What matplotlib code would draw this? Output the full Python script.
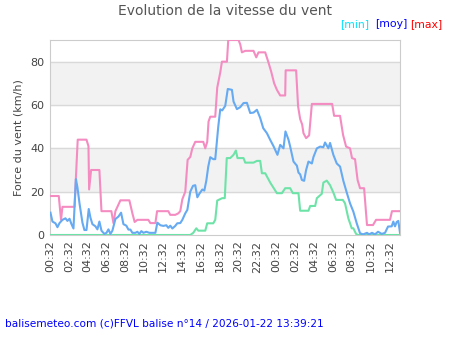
import matplotlib
matplotlib.use("Agg")
import matplotlib.pyplot as plt

# hours counted from 00:32 on the first day
max_h = [0.05, 0.93, 1.17, 1.32, 2.6, 2.94, 3.87, 4.08, 4.15, 4.36, 5.24, 5.46, 6.51, 6.73, 6.94,
         7.47, 8.42, 8.74, 8.98, 9.27, 10.43, 10.65, 11.18, 11.36, 12.55, 12.76, 13.29, 13.61, 13.82,
         14.04, 14.35, 14.6, 14.88, 15.1, 15.41, 16.26, 16.47, 16.68, 16.82, 17.0, 17.53, 17.74, 18.06,
         18.24, 18.77, 18.91, 20.0, 20.18, 20.36, 20.71, 21.59, 21.88, 22.12, 22.83, 23.15, 23.46, 23.78,
         24.07, 24.42, 24.95, 25.0, 26.11, 26.32, 26.54, 26.75, 26.89, 27.17, 27.49, 27.78, 29.93, 30.14,
         30.77, 31.09, 31.41, 31.83, 32.04, 32.36, 32.63, 32.89, 33.32, 33.63, 34.27, 34.59, 36.07, 36.28,
         37.13]
max_v = [18, 18, 7, 13, 13, 44, 44, 41, 21, 30, 30, 11, 11, 5.5, 11,
         16, 16, 10, 6, 7, 7, 5.5, 5.5, 11, 11, 9.3, 9.3, 10, 11,
         16.5, 20, 34.7, 36, 40, 43, 43, 40, 43, 52.4, 54.6, 54.6, 68, 75,
         80, 80, 90, 90, 88, 84.3, 85, 85, 82, 84.3, 84.3, 80, 75.5, 70,
         67, 64.4, 64.4, 76, 76, 59.3, 53.5, 51, 47, 44.7, 46, 60.5, 60.5, 55,
         55, 46.2, 40.8, 40, 35.5, 35, 25.4, 21.6, 21.6, 4.6, 4.6, 7, 7, 11,
         11]

moy_h = [0.05, 0.26, 0.58, 0.79, 1.01, 1.32, 1.64, 1.85, 2.07, 2.28, 2.49, 2.75, 2.91, 3.13, 3.44,
         3.65, 3.87, 4.11, 4.29, 4.5, 4.82, 5.03, 5.24, 5.46, 5.77, 5.99, 6.2, 6.41, 6.62, 6.94,
         7.26, 7.54, 7.79, 8.1, 8.32, 8.53, 8.74, 9.06, 9.27, 9.48, 9.69, 9.91, 10.22, 10.54, 11.18,
         11.39, 11.71, 12.02, 12.34, 12.55, 12.76, 12.98, 13.29, 13.5, 13.82, 14.04, 14.35, 14.57, 14.88,
         15.17, 15.41, 15.63, 15.84, 16.16, 16.37, 16.58, 16.79, 17.0, 17.32, 17.53, 17.85, 18.06, 18.27,
         18.59, 18.86, 19.3, 19.47, 19.83, 20.18, 20.53, 20.89, 21.24, 21.59, 21.95, 22.12, 22.3, 22.62,
         23.01, 23.36, 23.71, 24.13, 24.42, 24.77, 24.98, 25.3, 25.48, 25.83, 26.19, 26.36, 26.54, 26.72,
         26.96, 27.17, 27.42, 27.78, 27.95, 28.31, 28.66, 29.0, 29.18, 29.53, 29.71, 30.06, 30.42, 30.77,
         31.12, 31.48, 31.83, 32.18, 32.54, 32.89, 33.21, 33.63, 33.85, 34.16, 34.48, 34.8, 35.19, 35.54,
         35.86, 36.25, 36.42, 36.6, 36.78, 36.95, 37.13]
moy_v = [10.3, 6.2, 5.4, 3.6, 5.5, 7, 7.7, 6.5, 7.5, 5, 3, 25.8, 22, 14.6, 5.7,
         2.3, 2.3, 12, 8, 5, 4, 2.6, 6.2, 2, 0.5, 1, 2.6, 0.5, 2, 7.4,
         8.5, 10.3, 5, 4.3, 2.5, 2.5, 1, 1, 1.5, 0.5, 1.8, 1, 1.5, 1, 1,
         5.7, 4.5, 4.2, 4.5, 3.3, 4.3, 3, 4.2, 5.4, 5.5, 7, 10, 11.6, 20,
         22.7, 23, 17.4, 19, 21, 20.5, 25, 31.6, 35.9, 35, 35, 50, 58, 57.5,
         59.6, 67.4, 67, 61.6, 58.1, 59, 60.9, 61, 56.3, 56.5, 57.8, 56, 54, 49.3,
         47, 43.9, 41, 37, 41.6, 40, 47.8, 44, 40.8, 33.9, 32, 28.8, 28, 25.4,
         25, 30, 33.9, 33, 36, 40, 40.8, 40.5, 42.7, 40, 42.5, 37, 33, 31.6,
         25, 19.6, 14.6, 10.8, 5.4, 0.8, 0.3, 1, 0.3, 1, 0.3, 1.5, 0.5, 1,
         3.9, 4, 6.2, 4, 6, 6.5, 1]

min_h = [0.05, 14.88, 15.2, 15.52, 15.73, 16.47, 16.68, 17.32, 17.53, 17.74, 18.27, 18.54, 18.75,
         19.12, 19.47, 19.72, 19.89, 20.53, 20.71, 21.59, 21.95, 22.3, 22.48, 22.83, 23.36, 24.07,
         24.6, 24.95, 25.48, 25.76, 26.36, 26.54, 27.42, 27.6, 28.13, 28.31, 28.83, 29.0, 29.36,
         29.71, 30.06, 30.35, 31.06, 31.3, 31.65, 32.01, 32.18, 32.47, 32.68, 37.13]
min_v = [0, 0, 1, 3.1, 2, 2, 5.4, 5.4, 7, 15.9, 17, 17, 35.5,
         35.5, 37, 39, 35.5, 35.5, 33.4, 33.4, 34.2, 34.2, 28.5, 28.5, 24.2, 19.3,
         19.3, 21.6, 21.6, 19.3, 19.3, 11.2, 11.2, 13.4, 13.4, 17, 19, 24.2, 25.1,
         23, 19.6, 16.2, 16.2, 14.6, 7.7, 3.1, 3.1, 0.5, 0, 0]

tick_pos = list(range(0, 37, 2))
tick_labels = ["%02d:32" % (t % 24) for t in tick_pos]

fig = plt.figure(figsize=(4.5, 3.5), dpi=100)
ax = fig.add_axes([50 / 450, 1 - 235 / 350, 350 / 450, 195 / 350])

# alternating background bands
ax.axhspan(20, 40, color="#f2f2f2", zorder=0)
ax.axhspan(60, 80, color="#f2f2f2", zorder=0)
for y in [20, 40, 60, 80]:
    ax.axhline(y, color="#d9d9d9", lw=1, zorder=1)

ax.plot(min_h, min_v, color="#6ee3a8", lw=1.5, zorder=3)
ax.plot(max_h, max_v, color="#f48cc2", lw=1.5, zorder=3)
ax.plot(moy_h, moy_v, color="#66aaf2", lw=1.5, zorder=4)

ax.set_xlim(0, 37.13)
ax.set_ylim(0, 90)
ax.set_yticks([0, 20, 40, 60, 80])
ax.set_xticks(tick_pos)
ax.set_xticklabels(tick_labels, rotation=90)
ax.tick_params(length=0, labelsize=8, colors="#444444", pad=4)
for s in ax.spines.values():
    s.set_color("#cccccc")
ax.set_ylabel("Force du vent (km/h)", fontsize=8, color="#444444", labelpad=5)

fig.text(0.5, 1 - 11 / 350, "Evolution de la vitesse du vent", ha="center", va="center",
         fontsize=10, color="#555555")
fig.text(340 / 450, 1 - 24 / 350, "[min]", color="#00e5ff", fontsize=7.8, va="center")
fig.text(375 / 450, 1 - 24 / 350, "[moy]", color="#0000ff", fontsize=7.8, va="center")
fig.text(410 / 450, 1 - 24 / 350, "[max]", color="#ff0000", fontsize=7.8, va="center")
fig.text(5 / 450, 1 - 324 / 350, "balisemeteo.com (c)FFVL balise n°14 / 2026-01-22 13:39:21",
         color="#0000ff", fontsize=7.6, va="center")

fig.savefig("out.png", dpi=100)
